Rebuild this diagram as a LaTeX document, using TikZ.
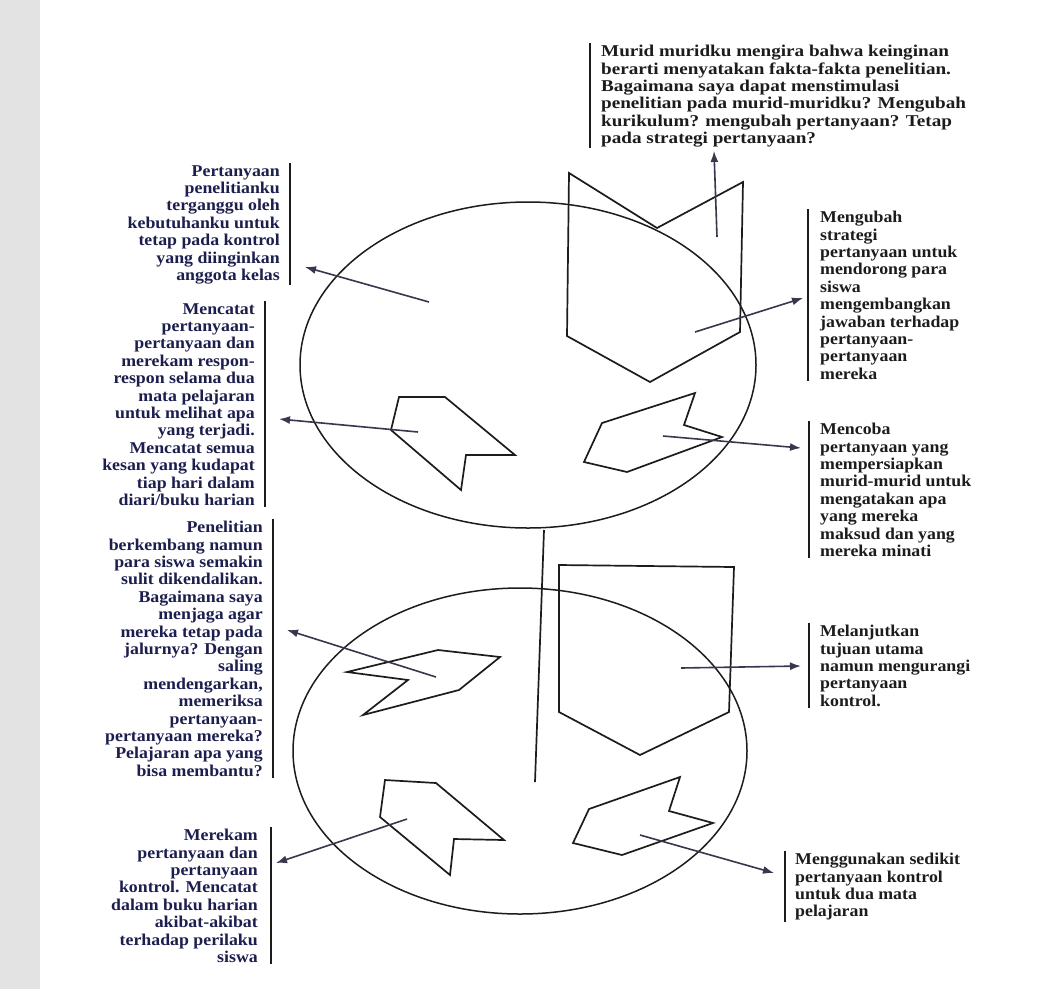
\documentclass[tikz,border=0pt]{standalone}
\usepackage{fontspec}
\setmainfont{Liberation Serif}
\newfontfamily\lblfont{Liberation Serif}[FakeStretch=1.08]
\newfontfamily\topfont{Liberation Serif}[FakeStretch=1.16]
\usetikzlibrary{arrows.meta}
\definecolor{navy}{RGB}{28,30,78}
\definecolor{ink}{RGB}{28,28,28}
\definecolor{arrowcol}{RGB}{55,55,78}
\begin{document}
\begin{tikzpicture}[x=1pt,y=-1pt,
  shapeline/.style={draw=ink, line width=1.7pt, line join=miter},
  loopline/.style={draw=ink, line width=1.5pt},
  arr/.style={draw=arrowcol, line width=1.6pt, -{Latex[length=11pt,width=8pt]}},
  bar/.style={draw=ink, line width=1.5pt},
  lefttxt/.style={anchor=north east, align=right, inner sep=0pt, text=navy,
    font=\lblfont\bfseries\fontsize{16.5}{17.4}\selectfont},
  righttxt/.style={anchor=north west, align=left, inner sep=0pt, text=ink,
    font=\lblfont\bfseries\fontsize{16.5}{17.4}\selectfont},
  toptxt/.style={anchor=north west, align=left, inner sep=0pt, text=ink,
    font=\topfont\bfseries\fontsize{16.5}{17.4}\selectfont}]
\useasboundingbox (0,0) rectangle (1059,989);
\fill[white] (0,0) rectangle (1059,989);
\fill[gray!22] (0,0) rectangle (40,989);

% loops
\draw[loopline] (528,365) ellipse [x radius=228pt, y radius=163pt];
\draw[loopline] (520,751) ellipse [x radius=227pt, y radius=163pt];

% shapes in the upper loop
\draw[shapeline] (569,173) -- (657,228) -- (743,182) -- (740,332) -- (650,382) -- (567,336) -- cycle;
\draw[shapeline] (399,397) -- (445,397) -- (515,455) -- (466,455) -- (461,490) -- (391,430) -- cycle;
\draw[shapeline] (695,393) -- (684,425) -- (722,437) -- (627,472) -- (584,462) -- (602,423) -- cycle;
% middle line
\draw[shapeline] (544,530) -- (535,782);
% shapes in the lower loop
\draw[shapeline] (347,672) -- (438,650) -- (500,657) -- (459,690) -- (363,715) -- (408,680) -- cycle;
\draw[shapeline] (559,565) -- (734,567) -- (729,712) -- (640,755) -- (559,712) -- cycle;
\draw[shapeline] (385,780) -- (436,783) -- (504,840) -- (454,839) -- (450,875) -- (380,817) -- cycle;
\draw[shapeline] (680,777) -- (669,811) -- (713,823) -- (622,855) -- (573,843) -- (589,809) -- cycle;

% text blocks
\node[toptxt] (murid) at (601,45) {Murid muridku mengira bahwa keinginan\\berarti menyatakan fakta-fakta penelitian.\\Bagaimana saya dapat menstimulasi\\penelitian pada murid-muridku? Mengubah\\kurikulum? mengubah pertanyaan? Tetap\\pada strategi pertanyaan?};
\node[lefttxt] (pert) at (280,165) {Pertanyaan\\penelitianku\\terganggu oleh\\kebutuhanku untuk\\tetap pada kontrol\\yang diinginkan\\anggota kelas};
\node[lefttxt] (menc) at (255,303) {Mencatat\\pertanyaan-\\pertanyaan dan\\merekam respon-\\respon selama dua\\mata pelajaran\\untuk melihat apa\\yang terjadi.\\Mencatat semua\\kesan yang kudapat\\tiap hari dalam\\diari/buku harian};
\node[lefttxt] (pene) at (263,521) {Penelitian\\berkembang namun\\para siswa semakin\\sulit dikendalikan.\\Bagaimana saya\\menjaga agar\\mereka tetap pada\\jalurnya? Dengan\\saling\\mendengarkan,\\memeriksa\\pertanyaan-\\pertanyaan mereka?\\Pelajaran apa yang\\bisa membantu?};
\node[lefttxt] (mere) at (258,829) {Merekam\\pertanyaan dan\\pertanyaan\\kontrol. Mencatat\\dalam buku harian\\akibat-akibat\\terhadap perilaku\\siswa};
\node[righttxt] (meng) at (820,211) {Mengubah\\strategi\\pertanyaan untuk\\mendorong para\\siswa\\mengembangkan\\jawaban terhadap\\pertanyaan-\\pertanyaan\\mereka};
\node[righttxt] (menb) at (820,423) {Mencoba\\pertanyaan yang\\mempersiapkan\\murid-murid untuk\\mengatakan apa\\yang mereka\\maksud dan yang\\mereka minati};
\node[righttxt] (mela) at (820,625) {Melanjutkan\\tujuan utama\\namun mengurangi\\pertanyaan\\kontrol.};
\node[righttxt] (mengg) at (795,853) {Menggunakan sedikit\\pertanyaan kontrol\\untuk dua mata\\pelajaran};

% bars
\draw[bar] ([xshift=-11pt,yshift=2pt]murid.north west) -- ([xshift=-11pt,yshift=-1pt]murid.south west);
\draw[bar] ([xshift=10pt,yshift=2pt]pert.north east) -- ([xshift=10pt,yshift=-1pt]pert.south east);
\draw[bar] ([xshift=10pt,yshift=2pt]menc.north east) -- ([xshift=10pt,yshift=-1pt]menc.south east);
\draw[bar] ([xshift=10pt,yshift=2pt]pene.north east) -- ([xshift=10pt,yshift=-1pt]pene.south east);
\draw[bar] ([xshift=13pt,yshift=2pt]mere.north east) -- ([xshift=13pt,yshift=-1pt]mere.south east);
\draw[bar] ([xshift=-12pt,yshift=2pt]meng.north west) -- ([xshift=-12pt,yshift=-1pt]meng.south west);
\draw[bar] ([xshift=-11pt,yshift=2pt]menb.north west) -- ([xshift=-11pt,yshift=-1pt]menb.south west);
\draw[bar] ([xshift=-11pt,yshift=2pt]mela.north west) -- ([xshift=-11pt,yshift=-1pt]mela.south west);
\draw[bar] ([xshift=-10pt,yshift=2pt]mengg.north west) -- ([xshift=-10pt,yshift=-1pt]mengg.south west);

% arrow ends
\coordinate (s1) at (717,237); \coordinate (t1) at (714,151);
\coordinate (s2) at (695,332); \coordinate (t2) at (803,298);
\coordinate (s3) at (429,302); \coordinate (t3) at (305,267);
\coordinate (s4) at (418,432); \coordinate (t4) at (279,419);
\coordinate (s5) at (663,436); \coordinate (t5) at (801,448);
\coordinate (s6) at (436,677); \coordinate (t6) at (287,630);
\coordinate (s7) at (681,668); \coordinate (t7) at (801,666);
\coordinate (s8) at (407,819); \coordinate (t8) at (276,863);
\coordinate (s9) at (640,835); \coordinate (t9) at (774,873);

\draw[arr] (s1) -- (t1);
\draw[arr] (s2) -- (t2);
\draw[arr] (s3) -- (t3);
\draw[arr] (s4) -- (t4);
\draw[arr] (s5) -- (t5);
\draw[arr] (s6) -- (t6);
\draw[arr] (s7) -- (t7);
\draw[arr] (s8) -- (t8);
\draw[arr] (s9) -- (t9);
\end{tikzpicture}
\end{document}
